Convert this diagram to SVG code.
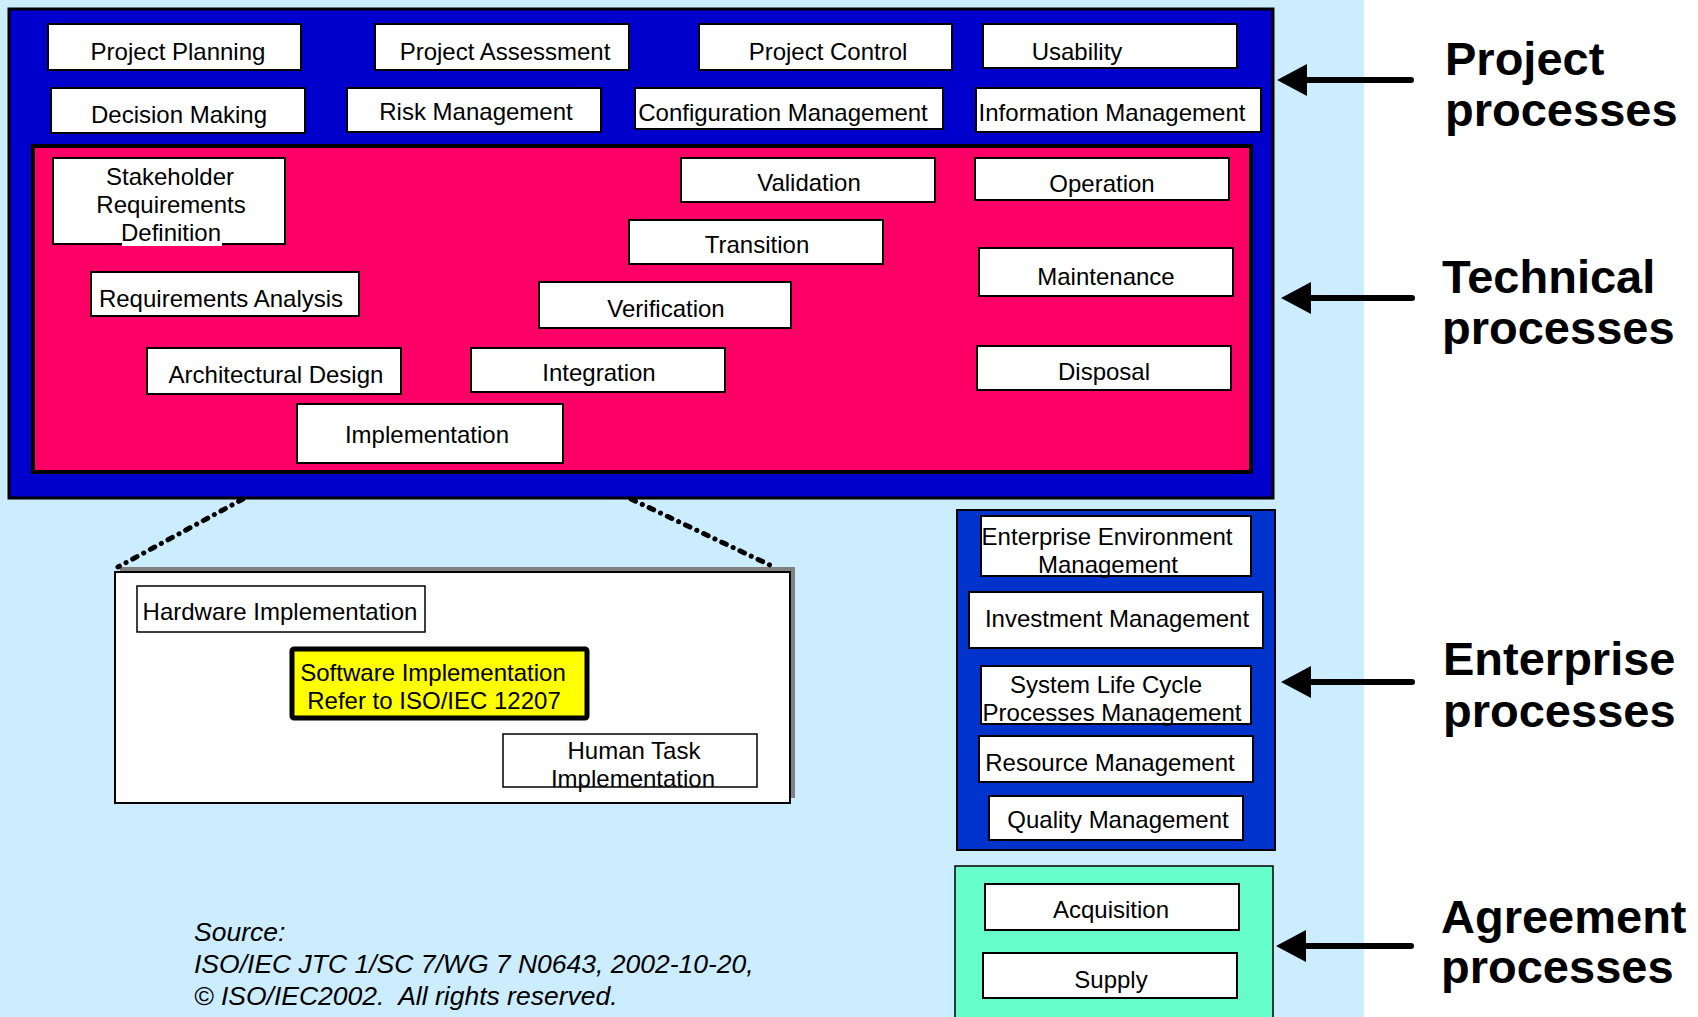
<svg xmlns="http://www.w3.org/2000/svg" width="1698" height="1017" viewBox="0 0 1698 1017">
  <style>
    text { font-family: "Liberation Sans", Arial, sans-serif; fill: #000; }
    .lbl { font-size: 24px; text-anchor: middle; }
    .box { fill: #fff; stroke: #000; stroke-width: 2; }
    .big { font-size: 47px; font-weight: bold; }
    .src { font-size: 26.5px; font-style: italic; }
    .arrow { stroke: #000; stroke-width: 6; stroke-linecap: round; fill: none; marker-end: url(#head); }
    .zoomline { stroke: #000; stroke-width: 5; stroke-linecap: round; stroke-dasharray: 5 7.5 0.1 7.5; fill: none; }
  </style>
  <defs>
    <marker id="head" viewBox="0 0 30 32" refX="7" refY="16" markerWidth="30" markerHeight="32" markerUnits="userSpaceOnUse" orient="auto">
      <path d="M0,0 L30,16 L0,32 Z" fill="#000"/>
    </marker>
  </defs>

  <!-- page background -->
  <rect x="0" y="0" width="1698" height="1017" fill="#fff"/>
  <rect x="0" y="0" width="1364" height="1017" fill="#CCECFF"/>

  <!-- project processes frame -->
  <g id="project-frame">
    <rect x="9" y="9" width="1264" height="489" fill="#0000CC" stroke="#000" stroke-width="3"/>
  </g>

  <g id="project-planning">
    <rect class="box" x="48" y="24" width="253" height="46"/>
    <text class="lbl" x="178" y="60">Project Planning</text>
  </g>
  <g id="project-assessment">
    <rect class="box" x="375" y="24" width="254" height="46"/>
    <text class="lbl" x="505" y="60">Project Assessment</text>
  </g>
  <g id="project-control">
    <rect class="box" x="699" y="24" width="253" height="46"/>
    <text class="lbl" x="828" y="60">Project Control</text>
  </g>
  <g id="usability">
    <rect class="box" x="983" y="24" width="254" height="44"/>
    <text class="lbl" x="1077" y="60">Usability</text>
  </g>
  <g id="decision-making">
    <rect class="box" x="51" y="88" width="254" height="45"/>
    <text class="lbl" x="179" y="123">Decision Making</text>
  </g>
  <g id="risk-management">
    <rect class="box" x="347" y="88" width="254" height="44"/>
    <text class="lbl" x="476" y="120">Risk Management</text>
  </g>
  <g id="configuration-management">
    <rect class="box" x="635" y="88" width="308" height="41"/>
    <text class="lbl" x="783" y="121">Configuration Management</text>
  </g>
  <g id="information-management">
    <rect class="box" x="976" y="88" width="285" height="44"/>
    <text class="lbl" x="1112" y="121">Information Management</text>
  </g>

  <!-- technical processes frame -->
  <g id="technical-frame">
    <rect x="33" y="146" width="1218" height="326" fill="#FF0066" stroke="#000" stroke-width="4"/>
  </g>

  <g id="stakeholder-requirements">
    <rect class="box" x="53" y="158" width="232" height="86"/>
    <rect x="122" y="236" width="100" height="10" fill="#fff"/>
    <text class="lbl" x="170" y="185">Stakeholder</text>
    <text class="lbl" x="171" y="213">Requirements</text>
    <text class="lbl" x="171" y="241">Definition</text>
  </g>
  <g id="requirements-analysis">
    <rect class="box" x="91" y="272" width="268" height="44"/>
    <text class="lbl" x="221" y="307">Requirements Analysis</text>
  </g>
  <g id="architectural-design">
    <rect class="box" x="147" y="348" width="254" height="46"/>
    <text class="lbl" x="276" y="383">Architectural Design</text>
  </g>
  <g id="implementation">
    <rect class="box" x="297" y="404" width="266" height="59"/>
    <text class="lbl" x="427" y="443">Implementation</text>
  </g>
  <g id="integration">
    <rect class="box" x="471" y="348" width="254" height="44"/>
    <text class="lbl" x="599" y="381">Integration</text>
  </g>
  <g id="verification">
    <rect class="box" x="539" y="282" width="252" height="46"/>
    <text class="lbl" x="666" y="317">Verification</text>
  </g>
  <g id="transition">
    <rect class="box" x="629" y="220" width="254" height="44"/>
    <text class="lbl" x="757" y="253">Transition</text>
  </g>
  <g id="validation">
    <rect class="box" x="681" y="158" width="254" height="44"/>
    <text class="lbl" x="809" y="191">Validation</text>
  </g>
  <g id="operation">
    <rect class="box" x="975" y="158" width="254" height="42"/>
    <text class="lbl" x="1102" y="192">Operation</text>
  </g>
  <g id="maintenance">
    <rect class="box" x="979" y="248" width="254" height="48"/>
    <text class="lbl" x="1106" y="285">Maintenance</text>
  </g>
  <g id="disposal">
    <rect class="box" x="977" y="346" width="254" height="44"/>
    <text class="lbl" x="1104" y="380">Disposal</text>
  </g>

  <!-- implementation detail -->
  <g id="implementation-detail">
    <rect x="120" y="567" width="675" height="231" fill="#808080"/>
    <rect x="115" y="572" width="675" height="231" fill="#fff" stroke="#000" stroke-width="2"/>
  </g>
  <g id="hardware-implementation">
    <rect x="137" y="586" width="288" height="46" fill="#fff" stroke="#000" stroke-width="1.5"/>
    <text class="lbl" x="280" y="620">Hardware Implementation</text>
  </g>
  <g id="software-implementation">
    <rect x="292" y="649" width="295" height="69" fill="#FFFF00" stroke="#000" stroke-width="5" rx="2"/>
    <text class="lbl" x="433" y="681">Software Implementation</text>
    <text class="lbl" x="434" y="709">Refer to ISO/IEC 12207</text>
  </g>
  <g id="human-task-implementation">
    <rect x="503" y="734" width="254" height="53" fill="#fff" stroke="#000" stroke-width="1.5"/>
    <text class="lbl" x="634" y="759">Human Task</text>
    <text class="lbl" x="633" y="787">Implementation</text>
  </g>

  <!-- enterprise processes frame -->
  <g id="enterprise-frame">
    <rect x="957" y="510" width="318" height="340" fill="#0033CC" stroke="#000" stroke-width="2"/>
  </g>
  <g id="enterprise-environment-management">
    <rect class="box" x="981" y="516" width="270" height="60"/>
    <text class="lbl" x="1107" y="545">Enterprise Environment</text>
    <text class="lbl" x="1108" y="573">Management</text>
  </g>
  <g id="investment-management">
    <rect class="box" x="969" y="592" width="294" height="56"/>
    <text class="lbl" x="1117" y="627">Investment Management</text>
  </g>
  <g id="system-life-cycle-management">
    <rect class="box" x="981" y="666" width="270" height="58"/>
    <text class="lbl" x="1106" y="693">System Life Cycle</text>
    <text class="lbl" x="1112" y="721">Processes Management</text>
  </g>
  <g id="resource-management">
    <rect class="box" x="979" y="736" width="274" height="46"/>
    <text class="lbl" x="1110" y="771">Resource Management</text>
  </g>
  <g id="quality-management">
    <rect class="box" x="989" y="796" width="254" height="44"/>
    <text class="lbl" x="1118" y="828">Quality Management</text>
  </g>

  <!-- agreement processes frame -->
  <g id="agreement-frame">
    <rect x="955" y="866" width="318" height="160" fill="#66FFCC" stroke="#000" stroke-width="1.5"/>
  </g>
  <g id="acquisition">
    <rect class="box" x="985" y="884" width="254" height="46"/>
    <text class="lbl" x="1111" y="918">Acquisition</text>
  </g>
  <g id="supply">
    <rect class="box" x="983" y="953" width="254" height="45"/>
    <text class="lbl" x="1111" y="988">Supply</text>
  </g>

  <!-- category labels -->
  <g id="label-project">
    <text class="big" x="1445" y="75">Project</text>
    <text class="big" x="1445" y="126">processes</text>
  </g>
  <g id="label-technical">
    <text class="big" x="1442" y="293">Technical</text>
    <text class="big" x="1442" y="344">processes</text>
  </g>
  <g id="label-enterprise">
    <text class="big" x="1443" y="675">Enterprise</text>
    <text class="big" x="1443" y="727">processes</text>
  </g>
  <g id="label-agreement">
    <text class="big" x="1441" y="933">Agreement</text>
    <text class="big" x="1441" y="983">processes</text>
  </g>

  <!-- connectors -->
  <g id="connectors">
    <line class="arrow" x1="1411" y1="80" x2="1300" y2="80"/>
    <line class="arrow" x1="1412" y1="298" x2="1304" y2="298"/>
    <line class="arrow" x1="1412" y1="682" x2="1304" y2="682"/>
    <line class="arrow" x1="1411" y1="946" x2="1299" y2="946"/>
    <line class="zoomline" x1="243" y1="499" x2="118" y2="567"/>
    <line class="zoomline" x1="631" y1="499" x2="774" y2="567"/>
  </g>

  <!-- source note -->
  <g id="source-note">
    <text class="src" x="194" y="941">Source:</text>
    <text class="src" x="194" y="973">ISO/IEC JTC 1/SC 7/WG 7 N0643, 2002-10-20,</text>
    <text class="src" x="194" y="1005" xml:space="preserve">© ISO/IEC2002.  All rights reserved.</text>
  </g>
</svg>
